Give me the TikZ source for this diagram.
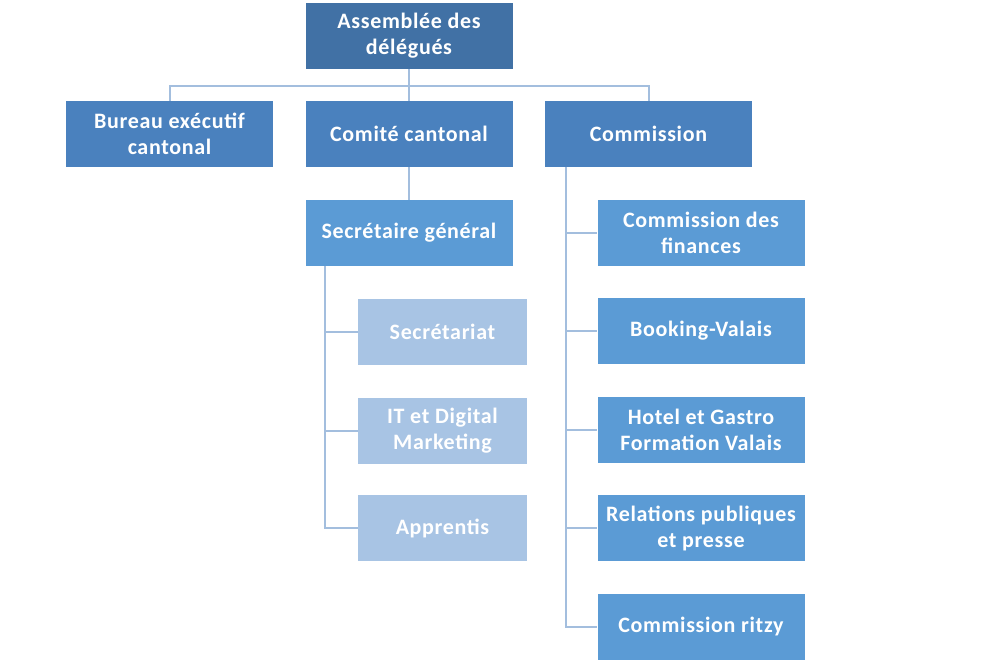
\documentclass[tikz,border=0pt]{standalone}
\usepackage{fontspec}
\setmainfont{Carlito}[LetterSpace=3]
\usetikzlibrary{positioning}
\definecolor{deepblue}{RGB}{65,113,165}
\definecolor{midblue}{RGB}{74,129,190}
\definecolor{softblue}{RGB}{91,155,213}
\definecolor{paleblue}{RGB}{168,196,228}
\definecolor{linkblue}{RGB}{163,190,222}

\begin{document}
\begin{tikzpicture}[x=1pt, y=-1pt,
    box/.style={fill=midblue,text=white,align=center,inner sep=2pt,
                font=\bfseries\fontsize{22}{26}\selectfont,
                minimum width=207pt,minimum height=66pt},
    link/.style={draw=linkblue,line width=2pt}]
    \useasboundingbox (0,0) rectangle (990,660);
    % top and second row
    \node[box,fill=deepblue] (assemblee) at (409,36) {Assemblée des\\délégués};
    \node[box] (bureau)     at (169.5,134) {Bureau exécutif\\cantonal};
    \node[box] (comite)     at (409,134)   {Comité cantonal};
    \node[box] (commission) at (648.5,134) {Commission};
    \node[box,fill=softblue] (secgen) at (409,233) {Secrétaire général};
    % staff under the secretary
    \node[box,fill=paleblue,minimum width=169pt] (secretariat) at (442.5,331.5) {Secrétariat};
    \node[box,fill=paleblue,minimum width=169pt] (itdm)        at (442.5,430.5) {IT et Digital\\Marketing};
    \node[box,fill=paleblue,minimum width=169pt] (apprentis)   at (442.5,528)   {Apprentis};
    % commissions
    \node[box,fill=softblue] (finances) at (701,233) {Commission des\\finances};
    \node[box,fill=softblue] (booking)  at (701,331) {Booking-Valais};
    \node[box,fill=softblue] (hotel)    at (701,430) {Hotel et Gastro\\Formation Valais};
    \node[box,fill=softblue] (presse)   at (701,528) {Relations publiques\\et presse};
    \node[box,fill=softblue] (ritzy)    at (701,627) {Commission ritzy};
    % connectors
    \draw[link] (assemblee.south) -- (comite.north);
    \draw[link] (bureau.north) -- ++(0,-15) -| (commission.north);
    \draw[link] (comite.south) -- (secgen.north);
    \coordinate (secfoot) at (325,266);
    \coordinate (comfoot) at (566,167);
    \foreach \n in {secretariat,itdm,apprentis} \draw[link] (secfoot) |- (\n.west);
    \foreach \n in {finances,booking,hotel,presse,ritzy} \draw[link] (comfoot) |- (\n.west);
\end{tikzpicture}
\end{document}
